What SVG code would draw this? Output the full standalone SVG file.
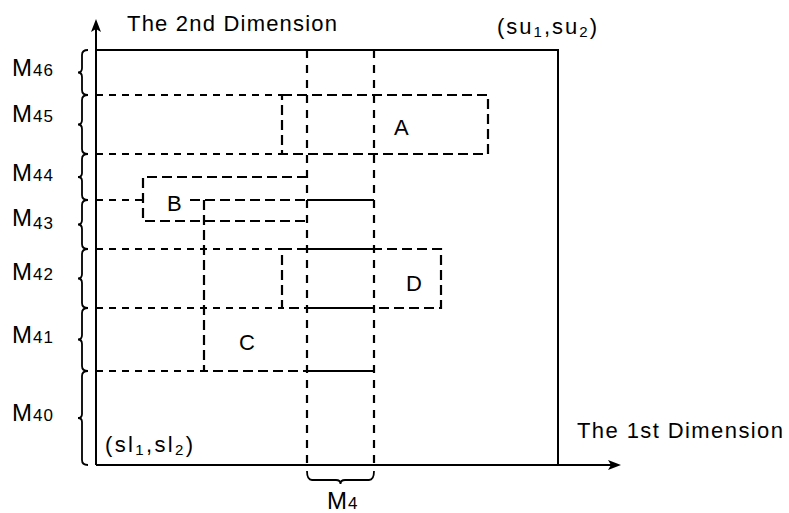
<svg xmlns="http://www.w3.org/2000/svg" width="789" height="513" viewBox="0 0 789 513">
<style>
  .ln{stroke:#000;stroke-width:2;fill:none}
  .grid{stroke:#000;stroke-width:2.2;fill:none;stroke-dasharray:7 6}
  .rect{stroke:#000;stroke-width:2.2;fill:none;stroke-dasharray:10 5}
  .col{stroke:#000;stroke-width:2.2;fill:none;stroke-dasharray:8 7}
  .seg{stroke:#000;stroke-width:2;fill:none}
  .brace{stroke:#000;stroke-width:1.8;fill:none}
  text{font-family:"Liberation Sans","DejaVu Sans",Arial,sans-serif;fill:#000}
  .lbl{font-size:22px}
  .big{font-size:22px}
  .m{font-size:24px;letter-spacing:1px}
  .sub{font-size:15px}
  .msub{font-size:17px}
</style>
<rect width="789" height="513" fill="#fff"/>

<g id="frame">
  <path class="ln" d="M96 50 H558 V465"/>
</g>

<g id="grid-lines">
  <path class="grid" d="M96 95 H282 M96 154 H282 M96 200 H143 M96 249 H282 M96 308 H282 M96 371 H204"/>
</g>

<g id="column-M4">
  <path class="col" d="M307 50 V465 M374 50 V465"/>
</g>

<g id="node-A">
  <rect class="rect" x="282" y="95" width="206" height="59"/>
  <text class="lbl" x="394" y="135">A</text>
</g>

<g id="node-B">
  <path class="rect" d="M307 177 H143 V221 H307"/>
  <text class="lbl" x="167" y="211">B</text>
</g>

<g id="node-C">
  <path class="rect" d="M190 200 H307 M204 200 V371 H307"/>
  <path class="seg" d="M307 200 H374 M307 371 H374"/>
  <text class="lbl" x="239" y="350">C</text>
</g>

<g id="node-D">
  <rect class="rect" x="282" y="249" width="159" height="59"/>
  <path class="seg" d="M307 249 H374 M307 308 H374"/>
  <text class="lbl" x="406" y="291">D</text>
</g>

<g id="connectors">
  <path class="ln" d="M96 465 V28"/>
  <polygon points="96,19 101,32 96,29 91,32" fill="#000"/>
  <path class="ln" d="M96 465 H612"/>
  <polygon points="621,465 608,460 611,465 608,470" fill="#000"/>
</g>

<g id="braces">
  <path class="brace" d="M88 50 Q82 50 82 55 V68 Q82 72.5 78 72.5 Q82 72.5 82 77 V90 Q82 95 88 95"/>
  <path class="brace" d="M88 95 Q82 95 82 100 V120 Q82 124.5 78 124.5 Q82 124.5 82 129 V149 Q82 154 88 154"/>
  <path class="brace" d="M88 154 Q82 154 82 159 V173 Q82 177 78 177 Q82 177 82 181 V195 Q82 200 88 200"/>
  <path class="brace" d="M88 200 Q82 200 82 205 V220 Q82 224.5 78 224.5 Q82 224.5 82 229 V244 Q82 249 88 249"/>
  <path class="brace" d="M88 249 Q82 249 82 254 V274 Q82 278.5 78 278.5 Q82 278.5 82 283 V303 Q82 308 88 308"/>
  <path class="brace" d="M88 308 Q82 308 82 313 V335 Q82 339.5 78 339.5 Q82 339.5 82 344 V366 Q82 371 88 371"/>
  <path class="brace" d="M88 371 Q82 371 82 376 V414 Q82 418 78 418 Q82 418 82 422 V460 Q82 465 88 465"/>
  <path class="brace" d="M307 471 Q307 480 312 480 H336 Q340.5 480 340.5 484 Q340.5 480 345 480 H369 Q374 480 374 471"/>
</g>

<g id="labels">
  <text class="big" x="127" y="31" textLength="210" lengthAdjust="spacing">The 2nd Dimension</text>
  <text class="big" x="577" y="438" textLength="206" lengthAdjust="spacing">The 1st Dimension</text>
  <text class="big" x="497" y="34" textLength="100" lengthAdjust="spacing">(su<tspan class="sub" dy="3">1</tspan><tspan dy="-3">,su</tspan><tspan class="sub" dy="3">2</tspan><tspan dy="-3">)</tspan></text>
  <text class="big" x="105" y="452" textLength="88" lengthAdjust="spacing">(sl<tspan class="sub" dy="3">1</tspan><tspan dy="-3">,sl</tspan><tspan class="sub" dy="3">2</tspan><tspan dy="-3">)</tspan></text>
  <text class="m" x="12" y="76">M<tspan class="msub">46</tspan></text>
  <text class="m" x="12" y="122">M<tspan class="msub">45</tspan></text>
  <text class="m" x="12" y="181">M<tspan class="msub">44</tspan></text>
  <text class="m" x="12" y="226">M<tspan class="msub" dy="3">43</tspan></text>
  <text class="m" x="12" y="280">M<tspan class="msub">42</tspan></text>
  <text class="m" x="12" y="343">M<tspan class="msub">41</tspan></text>
  <text class="m" x="12" y="421">M<tspan class="msub">40</tspan></text>
  <text class="m" x="327" y="509">M<tspan class="msub">4</tspan></text>
</g>
</svg>
